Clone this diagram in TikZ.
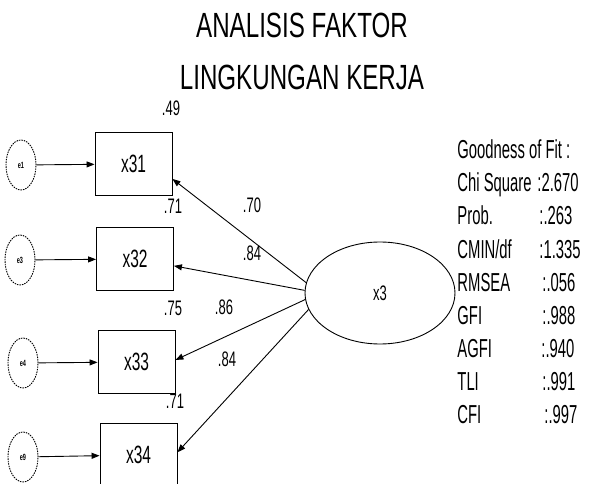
\documentclass[tikz,border=0pt]{standalone}
\usepackage{fontspec}
\usepackage{tikz}
\usetikzlibrary{arrows.meta,shapes,positioning}
\newfontfamily\titlefont[FakeStretch=0.69]{Liberation Sans}
\newfontfamily\narrowfont[FakeStretch=0.62]{Liberation Sans}
\newfontfamily\gofont[FakeStretch=0.57]{Liberation Sans}

\begin{document}
\begin{tikzpicture}[x=1pt, y=-1pt, ->, >={Triangle[length=8pt,width=6pt]}, line width=0.9pt]

	\tikzstyle{measure}=[draw, rectangle, minimum width=77pt, minimum height=63pt, inner sep=0pt, font=\narrowfont\fontsize{25}{25}\selectfont]
	\tikzstyle{error}=[draw, ellipse, dash pattern=on 1.5pt off 1pt, minimum width=30pt, minimum height=50pt, inner sep=0pt, font=\narrowfont\bfseries\fontsize{9}{9}\selectfont]
	\tikzstyle{latent}=[draw, ellipse, minimum width=150pt, minimum height=102pt, inner sep=0pt, font=\narrowfont\fontsize{21}{21}\selectfont]
	\tikzstyle{coef}=[inner sep=0pt, font=\narrowfont\fontsize{21}{21}\selectfont]
	\tikzstyle{gof}=[anchor=base west, inner sep=0pt, font=\gofont\fontsize{26}{26}\selectfont]
	\tikzstyle{heading}=[anchor=base, inner sep=0pt, font=\titlefont\fontsize{35}{35}\selectfont]

	\useasboundingbox (0,0) rectangle (592,484);

	% title
	\node[heading] (title1) at (302,38) {ANALISIS FAKTOR};
	\node[heading] (title2) at (302,90) {LINGKUNGAN KERJA};

	% indicators and errors
	\node[measure] (x31) at (133.5,164) {x31};
	\node[measure] (x32) at (135,259) {x32};
	\node[measure] (x33) at (136.5,362) {x33};
	\node[measure] (x34) at (138.5,455) {x34};
	\node[error] (e1) at (21,165) {e1};
	\node[error] (e3) at (20,260) {e3};
	\node[error] (e4) at (23,363) {e4};
	\node[error] (e9) at (23,457) {e9};

	\draw (e1) -- (x31);
	\draw (e3) -- (x32);
	\draw (e4) -- (x33);
	\draw (e9) -- (x34);

	% latent variable
	\node[latent] (x3) at (380,293) {x3};
	\draw (x3.172) -- (x31.-21);
	\draw (x3.178) -- (x32.-10);
	\draw (x3.185) -- (x33.3);
	\draw (x3.193) -- (x34.4);

	% loadings and r-squares
	\node[coef] (l1) at (252,205) {.70};
	\node[coef] (l2) at (252,253) {.84};
	\node[coef] (l3) at (224,307) {.86};
	\node[coef] (l4) at (227,359) {.84};
	\node[coef] (r1) at (171,108) {.49};
	\node[coef] (r2) at (173,206) {.71};
	\node[coef] (r3) at (173,308) {.75};
	\node[coef] (r4) at (175,401) {.71};

	% goodness of fit
	\node[gof] (g0) at (457,159) {Goodness of Fit :};
	\node[gof] (g1) at (457,192) {Chi Square};
	\node[gof] (g2) at (457,225) {Prob.};
	\node[gof] (g3) at (457,258) {CMIN/df};
	\node[gof] (g4) at (457,291) {RMSEA};
	\node[gof] (g5) at (457,324) {GFI};
	\node[gof] (g6) at (457,357) {AGFI};
	\node[gof] (g7) at (457,390) {TLI};
	\node[gof] (g8) at (457,423) {CFI};
	\node[gof] (v1) at (537,192) {:2.670};
	\node[gof] (v2) at (539,225) {:.263};
	\node[gof] (v3) at (539,258) {:1.335};
	\node[gof] (v4) at (542,291) {:.056};
	\node[gof] (v5) at (542,324) {:.988};
	\node[gof] (v6) at (541,357) {:.940};
	\node[gof] (v7) at (542,390) {:.991};
	\node[gof] (v8) at (544,423) {:.997};

\end{tikzpicture}
\end{document}
